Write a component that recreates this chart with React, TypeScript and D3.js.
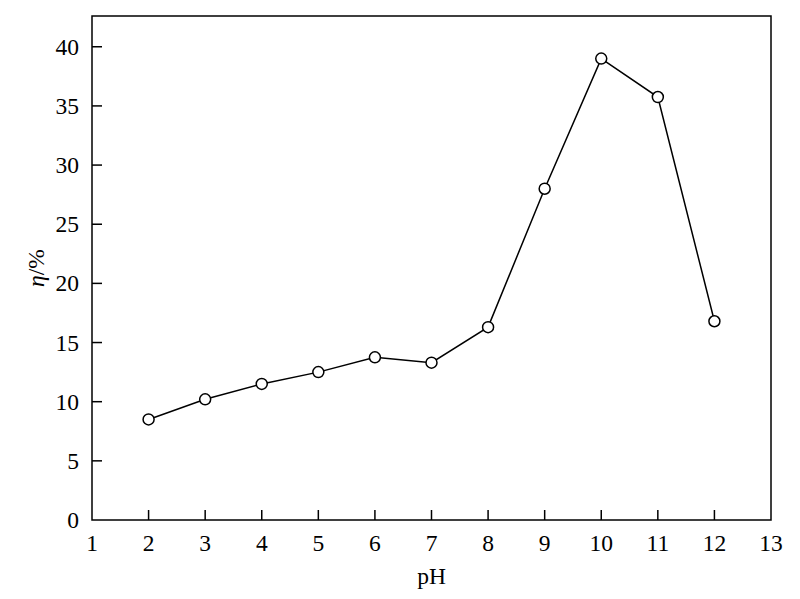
import React from "react";
import * as d3 from "d3";

const phValues = [2, 3, 4, 5, 6, 7, 8, 9, 10, 11, 12];
const etaValues = [8.5, 10.2, 11.5, 12.5, 13.75, 13.3, 16.3, 28.0, 39.0, 35.75, 16.8];
const xTicks = [1, 2, 3, 4, 5, 6, 7, 8, 9, 10, 11, 12, 13];
const yTicks = [0, 5, 10, 15, 20, 25, 30, 35, 40];

const App = () => {
  const width = 800;
  const height = 599;
  const margin = { top: 16, right: 29, bottom: 79, left: 92 };
  const font = "'Times New Roman', 'Liberation Serif', serif";

  const x = d3.scaleLinear().domain([1, 13]).range([margin.left, width - margin.right]);
  const y = d3.scaleLinear().domain([0, 42.6]).range([height - margin.bottom, margin.top]);

  const line = d3
    .line<number>()
    .x((d, i) => x(phValues[i]))
    .y((d) => y(d));

  const x0 = x(1);
  const x1 = x(13);
  const y0 = y(0);
  const y1 = y(42.6);

  return (
    <svg
      width={width}
      height={height}
      style={{ position: "absolute", left: 0, top: 0, background: "#fff" }}
      fontFamily={font}
    >
      {/* frame */}
      <rect x={x0} y={y1} width={x1 - x0} height={y0 - y1} fill="none" stroke="#000" strokeWidth={1.5} />

      {/* x ticks */}
      {xTicks.map((t) => (
        <g key={"x" + t}>
          {t > 1 && t < 13 && <line x1={x(t)} x2={x(t)} y1={y0} y2={y0 - 10} stroke="#000" strokeWidth={1.5} />}
          <text x={x(t)} y={y0 + 31} textAnchor="middle" fontSize={23.5} fill="#000">
            {t}
          </text>
        </g>
      ))}

      {/* y ticks */}
      {yTicks.map((t) => (
        <g key={"y" + t}>
          {t > 0 && <line x1={x0} x2={x0 + 10} y1={y(t)} y2={y(t)} stroke="#000" strokeWidth={1.5} />}
          <text x={x0 - 13} y={y(t) + 8} textAnchor="end" fontSize={23.5} fill="#000">
            {t}
          </text>
        </g>
      ))}

      {/* data line */}
      <path d={line(etaValues) || ""} fill="none" stroke="#000" strokeWidth={1.5} />
      {etaValues.map((v, i) => (
        <circle key={i} cx={x(phValues[i])} cy={y(v)} r={5.5} fill="#fff" stroke="#000" strokeWidth={1.5} />
      ))}

      {/* axis labels */}
      <text x={(x0 + x1) / 2} y={584} textAnchor="middle" fontSize={23.5} fill="#000">
        pH
      </text>
      <text
        transform={`translate(44, ${(y0 + y1) / 2}) rotate(-90)`}
        textAnchor="middle"
        fontSize={23.5}
        fill="#000"
      >
        <tspan fontStyle="italic">η</tspan>/%
      </text>
    </svg>
  );
};

export default App;
